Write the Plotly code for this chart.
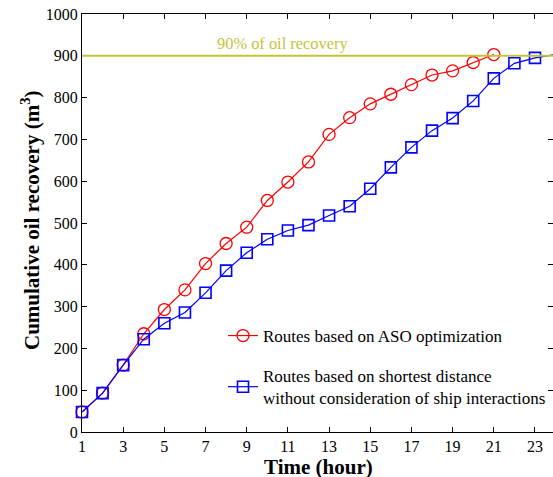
import plotly.graph_objects as go

hours = list(range(1, 25))
aso_recovery = [48, 93, 160, 235, 293, 340, 403, 451, 490, 554, 598, 646, 712, 752, 785, 808, 831, 854, 864, 884, 903]
shortest_recovery = [48, 93, 160, 222, 260, 286, 333, 386, 429, 461, 482, 495, 518, 540, 582, 633, 681, 721, 751, 792, 846, 882, 895, 903]
target_level = 900
x_ticks = list(range(1, 24, 2))
y_ticks = list(range(0, 1001, 100))

FONT = "Liberation Serif, Times New Roman, serif"
L, T, R, B = 82, 14, 0, 45
W, H = 553, 477
px_per_unit = 20.59
x_end = 1 + (W - L - R) / px_per_unit

fig = go.Figure()
fig.add_trace(go.Scatter(
    x=hours[:len(aso_recovery)], y=aso_recovery, mode="lines+markers",
    name="Routes based on ASO optimization",
    line=dict(color="#ff0000", width=1.2),
    marker=dict(symbol="circle-open", size=12, color="#ff0000", line=dict(width=1.3)),
    cliponaxis=False, legendgroup="a"))
fig.add_trace(go.Scatter(
    x=hours[:len(shortest_recovery)], y=shortest_recovery, mode="lines+markers",
    name="Routes based on shortest distance<br>without consideration of ship interactions",
    line=dict(color="#0000ff", width=1.2),
    marker=dict(symbol="square-open", size=11, color="#0000ff", line=dict(width=1.6)),
    cliponaxis=False, legendgroup="b"))

fig.add_shape(type="line", xref="paper", x0=0, x1=1, yref="y", y0=target_level, y1=target_level,
              line=dict(color="#c4c43a", width=2))
fig.add_annotation(x=10.74, y=930, xref="x", yref="y", text="90% of oil recovery", showarrow=False,
                   xanchor="center", yanchor="middle",
                   font=dict(family=FONT, size=16.4, color="#c4c43a"))

fig.add_annotation(xref="paper", yref="paper", x=(318 - L) / (W - L), y=(432 - 467) / (432 - 14),
                   xanchor="center", yanchor="middle",
                   text="<b>Time (hour)</b>", showarrow=False,
                   font=dict(family=FONT, size=21, color="black"))
fig.add_annotation(xref="paper", yref="paper", x=(30 - L) / (W - L), y=(432 - 221) / (432 - 14),
                   xanchor="center", yanchor="middle",
                   text="<b>Cumulative oil recovery (m<sup>3</sup>)</b>", showarrow=False, textangle=-90,
                   font=dict(family=FONT, size=21, color="black"))

fig.update_layout(
    width=W, height=H, margin=dict(l=L, r=R, t=T, b=B),
    paper_bgcolor="white", plot_bgcolor="white",
    font=dict(family=FONT, size=16, color="black"),
    showlegend=True,
    legend=dict(x=(223 - L) / (W - L), y=(432 - 318) / (432 - 14), xanchor="left", yanchor="top",
                bgcolor="rgba(0,0,0,0)", font=dict(family=FONT, size=17),
                tracegroupgap=15, traceorder="grouped"),
    xaxis=dict(range=[1, x_end], tickvals=x_ticks, ticks="inside", ticklen=5, tickcolor="black",
               showline=True, linecolor="black", linewidth=1.2, mirror="ticks",
               showgrid=False, zeroline=False, tickfont=dict(size=16)),
    yaxis=dict(range=[0, 1000], tickvals=y_ticks, ticks="inside", ticklen=5, tickcolor="black",
               showline=True, linecolor="black", linewidth=1.2, showgrid=False, zeroline=False,
               tickfont=dict(size=16)),
    yaxis2=dict(range=[0, 1000], tickvals=y_ticks, ticks="inside", ticklen=5, tickcolor="black",
                overlaying="y", side="right", showline=False, showticklabels=False,
                showgrid=False, zeroline=False),
)
fig.add_trace(go.Scatter(x=[None], y=[None], yaxis="y2", showlegend=False, hoverinfo="skip"))

fig.write_html("out.html")
